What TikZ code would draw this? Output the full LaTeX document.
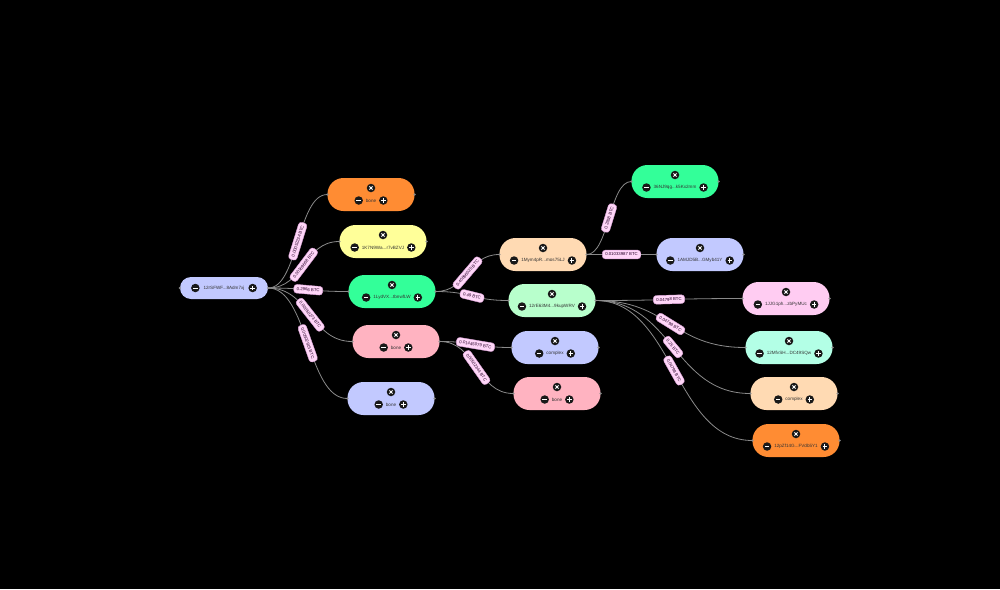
\documentclass[tikz,border=0pt]{standalone}
\usepackage{fontspec}
\setmainfont{Liberation Sans}
\usetikzlibrary{calc}
\definecolor{cblue}{HTML}{C2C9FF}
\definecolor{corange}{HTML}{FF8C33}
\definecolor{cyellow}{HTML}{FFFF99}
\definecolor{cgreen}{HTML}{33FF99}
\definecolor{cpink}{HTML}{FFB3C1}
\definecolor{cpeach}{HTML}{FFDAB3}
\definecolor{clgreen}{HTML}{B8FFCC}
\definecolor{clpink}{HTML}{FFCCF2}
\definecolor{cmint}{HTML}{B3FFE6}
\definecolor{clbl}{HTML}{FFD6F8}
\definecolor{clbld}{HTML}{D9A0D6}
\definecolor{cedge}{HTML}{8A8A8A}
\tikzset{
  pill/.style={rectangle, rounded corners=16pt, minimum width=87pt, minimum height=33pt, inner sep=0pt},
  rootpill/.style={rectangle, rounded corners=11pt, minimum width=88pt, minimum height=22pt, inner sep=0pt},
  ntext/.style={inner sep=0pt, font=\fontsize{4.6}{5}\selectfont, text=black!80},
  icon/.style={circle, fill=black!90, inner sep=0pt, minimum size=8.5pt},
  xmark/.style={path picture={\draw[white,line width=0.8pt]
      ([shift={(-1.6pt,-1.6pt)}]path picture bounding box.center) -- ([shift={(1.6pt,1.6pt)}]path picture bounding box.center)
      ([shift={(-1.6pt,1.6pt)}]path picture bounding box.center) -- ([shift={(1.6pt,-1.6pt)}]path picture bounding box.center);}},
  minusmark/.style={path picture={\draw[white,line width=0.9pt]
      ([shift={(-2.2pt,0pt)}]path picture bounding box.center) -- ([shift={(2.2pt,0pt)}]path picture bounding box.center);}},
  plusmark/.style={path picture={\draw[white,line width=0.9pt]
      ([shift={(-2.2pt,0pt)}]path picture bounding box.center) -- ([shift={(2.2pt,0pt)}]path picture bounding box.center)
      ([shift={(0pt,-2.2pt)}]path picture bounding box.center) -- ([shift={(0pt,2.2pt)}]path picture bounding box.center);}},
  handle/.style={circle, fill=cedge, inner sep=0pt, minimum size=2.5pt},
  edge/.style={draw=cedge, line width=0.8pt},
  lbl/.style={fill=clbl, draw=clbld, line width=0.4pt, rounded corners=3pt, inner xsep=3pt, inner ysep=2.8pt,
      font=\fontsize{4.3}{5}\selectfont, text=black!70!violet, sloped},
}
\newcommand\pillnode[5]{%
  \node[pill, fill=#4] (#1) at (#2,#3) {};
  \node[icon, xmark] (#1-x) at ($(#1.center)+(0,-6.5)$) {};
  \node[ntext] (#1-t) at ($(#1.center)+(0,6)$) {#5};
  \node[icon, minusmark] (#1-m) at ($(#1-t.west)+(-7,0)$) {};
  \node[icon, plusmark] (#1-p) at ($(#1-t.east)+(7,0)$) {};
  \node[handle] (#1-hw) at (#1.west) {};
  \node[handle] (#1-he) at (#1.east) {};
}
\begin{document}
\begin{tikzpicture}[x=1pt,y=-1pt]
\fill[black] (0,0) rectangle (1000,589);
\path[use as bounding box] (0,0) rectangle (1000,589);
% root
\node[rootpill, fill=cblue] (root) at (224,288) {};
\node[ntext] (root-t) at (root.center) {12rSFWF...8Adm7xj};
\node[icon, minusmark] (root-m) at ($(root-t.west)+(-8,0)$) {};
\node[icon, plusmark] (root-p) at ($(root-t.east)+(8,0)$) {};
\node[handle] (root-hw) at (root.west) {};
\node[handle] (root-he) at (root.east) {};
% level 1
\pillnode{oa}{371}{194.5}{corange}{bone}
\pillnode{ya}{383}{241.5}{cyellow}{1K7N9Wa...r7vBZVJ}
\pillnode{ga}{392}{291.5}{cgreen}{1LydVX...tbnwfLW}
\pillnode{pa}{396}{341.5}{cpink}{bone}
\pillnode{ba}{391}{398.5}{cblue}{bone}
% level 2
\pillnode{pe}{543}{254.5}{cpeach}{1Mym4pR...mos75LJ}
\pillnode{lg}{552}{300.5}{clgreen}{12rE63M4...9kupWRV}
\pillnode{bc}{555}{347.5}{cblue}{complex}
\pillnode{pb}{557}{393.5}{cpink}{bone}
% level 3
\pillnode{gn}{675}{181.5}{cgreen}{36NJ9qg...k5Kx2mm}
\pillnode{am}{700}{254.5}{cblue}{1AMJD5B...GMyb41Y}
\pillnode{jj}{786}{298.5}{clpink}{1JJG1ph...zbPyMUc}
\pillnode{mf}{789}{347.5}{cmint}{12MfvSH...DC49SQw}
\pillnode{pc}{794}{393.5}{cpeach}{complex}
\pillnode{oz}{796}{440.5}{corange}{12pZf14G...FVdb5Y1}
% edges
\draw[edge] (root.east) .. controls +(30,0) and +(-30,0) .. (oa.west) node[lbl, midway] (l1) {0.00052234 BTC};
\draw[edge] (root.east) .. controls +(36,0) and +(-36,0) .. (ya.west) node[lbl, midway] (l2) {0.00169668 BTC};
\draw[edge] (root.east) .. controls +(40,0) and +(-40,0) .. (ga.west) node[lbl, midway] (l3) {0.2966 BTC};
\draw[edge] (root.east) .. controls +(42,0) and +(-42,0) .. (pa.west) node[lbl, midway] (l4) {0.00050273 BTC};
\draw[edge] (root.east) .. controls +(40,0) and +(-40,0) .. (ba.west) node[lbl, midway] (l5) {0.00502915 BTC};
\draw[edge] (ga.east) .. controls +(32,0) and +(-32,0) .. (pe.west) node[lbl, midway] (l6) {0.40896025 BTC};
\draw[edge] (ga.east) .. controls +(36,0) and +(-36,0) .. (lg.west) node[lbl, midway] (l7) {0.49 BTC};
\draw[edge] (pa.east) .. controls +(36,0) and +(-36,0) .. (bc.west) node[lbl, midway] (l8) {0.01445079 BTC};
\draw[edge] (pa.east) .. controls +(37,0) and +(-37,0) .. (pb.west) node[lbl, midway] (l9) {0.00502344 BTC};
\draw[edge] (pe.east) .. controls +(22,0) and +(-22,0) .. (gn.west) node[lbl, midway] (l10) {0.2958 BTC};
\draw[edge] (pe.east) .. controls +(35,0) and +(-35,0) .. (am.west) node[lbl, midway] (l11) {0.01033987 BTC};
\draw[edge] (lg.east) .. controls +(73,0) and +(-73,0) .. (jj.west) node[lbl, midway] (l12) {0.04798 BTC};
\draw[edge] (lg.east) .. controls +(74,0) and +(-74,0) .. (mf.west) node[lbl, midway] (l13) {0.04798 BTC};
\draw[edge] (lg.east) .. controls +(77,0) and +(-77,0) .. (pc.west) node[lbl, midway] (l14) {0.25 BTC};
\draw[edge] (lg.east) .. controls +(78,0) and +(-78,0) .. (oz.west) node[lbl, midway] (l15) {0.04798 BTC};
\end{tikzpicture}
\end{document}
